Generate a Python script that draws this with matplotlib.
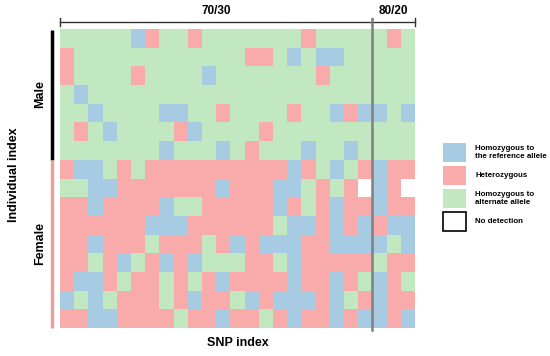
import matplotlib
matplotlib.use('Agg')
import matplotlib.pyplot as plt
import numpy as np
from matplotlib.colors import ListedColormap
from matplotlib.patches import Rectangle

# genotype calls per individual, one character per SNP
# B = homozygous reference, P = heterozygous, G = homozygous alternate, W = no detection
male_rows = [
    "GGGGGBPGGPGGGGGGGPGGGGGPG",
    "PGGGGGGGGGGGGPPGBGBBGGGGG",
    "PGGGGPGGGGBGGGGGGGPGGGGGG",
    "GBGGGGGGGGGGGGGGGGGGGGGGG",
    "GGBGGGGBBGGPGGGGPGGBPBBGB",
    "GPGBGGGGPBGGGGPGGGGGGGGGG",
    "GGGGGGGBGGGBGPGGGBGGBGGGG",
]
female_rows = [
    "PBBGPGPPPPPPPPPPBPGBGPBPP",
    "GGBBPPPPPPPBPPPBBGPGPWBPW",
    "PPBPPPPBGGPPPPPBPGPBPPBPP",
    "PPPPPPBBBPPPPPPGBBPBPBPBB",
    "PPBPPPGPPPGPBPBBBPPBBBBGB",
    "PPGPBGPBPBGGGPPGBPPPPPGPP",
    "PBBPGPPGPGPBPPPPBPPBPGBPG",
    "BGBGPPPGPBPPGBPBBBPBGPBPP",
    "PPBBPPPPGPPBPPGPBPPBPBBPB",
]
n_group1 = 22  # SNPs in the 70/30 group, rest are 80/20

legend_labels = ["Homozygous to\nthe reference allele", "Heterozygous",
                 "Homozygous to\nalternate allele", "No detection"]

code = {"B": 0, "P": 1, "G": 2, "W": 3}
colors = ["#A8CBE4", "#F9AAAA", "#C2E8C2", "#FFFFFF"]

plt.rcParams['font.family'] = ['Liberation Sans', 'DejaVu Sans']

rows = male_rows + female_rows
grid = np.array([[code[c] for c in r] for r in rows])
n_rows, n_cols = grid.shape

W, H = 550, 356
fig = plt.figure(figsize=(W / 100, H / 100), dpi=100)
x0, x1, y0, y1 = 60, 415, 29, 328
ax = fig.add_axes([x0 / W, 1 - y1 / H, (x1 - x0) / W, (y1 - y0) / H])

ax.pcolormesh(np.arange(n_cols + 1), np.arange(n_rows + 1), grid,
              cmap=ListedColormap(colors), vmin=-0.5, vmax=3.5)
ax.set_xlim(0, n_cols)
ax.set_ylim(n_rows, 0)
ax.axis('off')

cx = (x1 - x0) / n_cols   # px per cell
cy = (y1 - y0) / n_rows

def py(p):  # pixel y -> data y
    return (p - y0) / cy

def px(p):
    return (p - x0) / cx

# split line between groups
ax.plot([n_group1, n_group1], [py(19), py(330)], color='#808080', lw=1.8,
        clip_on=False, zorder=5)

# top bracket
ax.plot([0, n_cols], [py(22), py(22)], color='#333333', lw=1, clip_on=False)
for xv in [0, n_group1, n_cols]:
    ax.plot([xv, xv], [py(18), py(26)], color='#333333', lw=1, clip_on=False)
ax.text(n_group1 / 2, py(11), "70/30", ha='center', va='center',
        fontsize=8.5, fontweight='bold')
ax.text((n_group1 + n_cols) / 2, py(11), "80/20", ha='center', va='center',
        fontsize=8.5, fontweight='bold')

# sex bars on the left
n_male = len(male_rows)
ax.plot([px(52), px(52)], [0.05, n_male], color='black', lw=2.5,
        clip_on=False, solid_capstyle='butt')
ax.plot([px(52), px(52)], [n_male, n_rows], color='#E8A0A0', lw=2.5,
        clip_on=False, solid_capstyle='butt')
ax.text(px(40), n_male / 2, "Male", rotation=90, ha='center', va='center',
        fontsize=9, fontweight='bold')
ax.text(px(40), (n_male + n_rows) / 2, "Female", rotation=90, ha='center',
        va='center', fontsize=9, fontweight='bold')

fig.text(14 / W, 1 - 175 / H, "Individual index", rotation=90, ha='center',
         va='center', fontsize=9, fontweight='bold')
fig.text(238 / W, 1 - 343 / H, "SNP index", ha='center', va='center',
         fontsize=9, fontweight='bold')

# legend
box_tops = [143, 166, 189, 212]
for i, (lab, top) in enumerate(zip(legend_labels, box_tops)):
    edge = 'black' if i == 3 else 'none'
    fig.patches.append(Rectangle((443 / W, 1 - (top + 19) / H), 23 / W, 19 / H,
                                 transform=fig.transFigure, facecolor=colors[i],
                                 edgecolor=edge, lw=1.2))
    fig.text(475 / W, 1 - (top + 9.5) / H, lab, ha='left', va='center',
             fontsize=5.7, fontweight='bold', linespacing=1.1)

fig.savefig('out.png', dpi=100)
